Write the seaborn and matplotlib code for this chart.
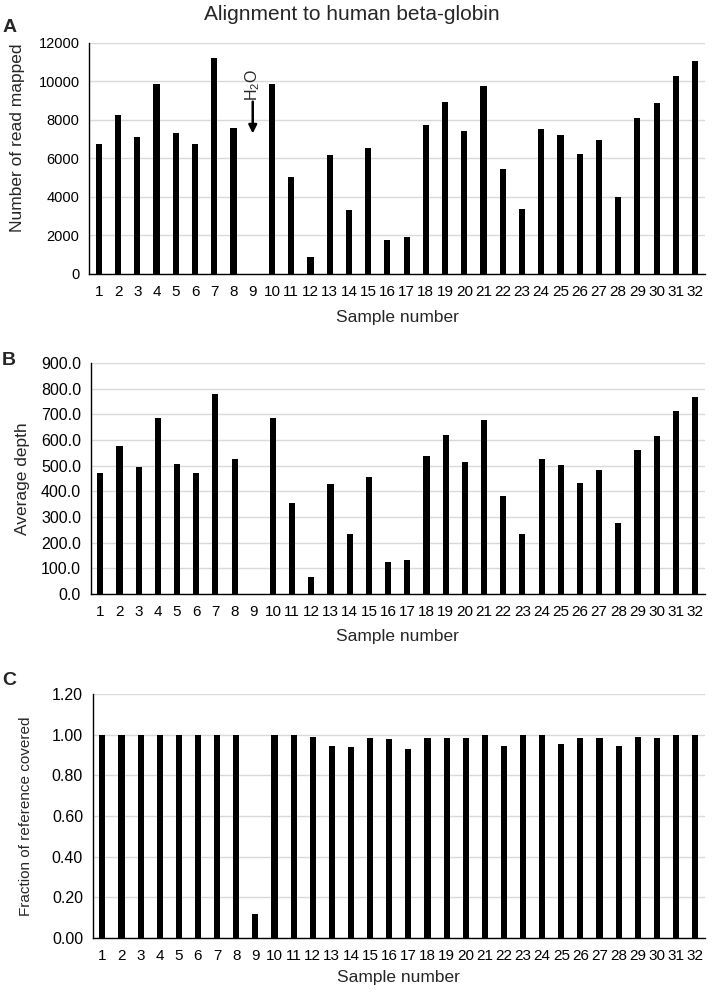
import numpy as np
import matplotlib
matplotlib.use("Agg")
import matplotlib.pyplot as plt
import seaborn as sns
from matplotlib.ticker import FixedLocator, FormatStrFormatter

sns.set_style("white")
plt.rcParams['font.family'] = ['Liberation Sans', 'DejaVu Sans']
plt.rcParams['mathtext.fontset'] = 'custom'
plt.rcParams['mathtext.rm'] = 'Liberation Sans'

# datos
samples = [str(i) for i in range(1, 33)]
reads_mapped = [6750, 8260, 7120, 9850, 7300, 6770, 11230, 7580, 0, 9850,
                5060, 880, 6160, 3310, 6560, 1780, 1900, 7720, 8920, 7430,
                9750, 5470, 3360, 7530, 7240, 6220, 6960, 3980, 8100, 8870,
                10300, 11060]
avg_depth = [471, 575, 495, 687, 508, 472, 779, 527, 0, 685,
             354, 65, 430, 233, 456, 125, 134, 537, 619, 516,
             678, 381, 235, 524, 504, 433, 484, 278, 562, 615,
             714, 767]
frac_covered = [1.00, 1.00, 1.00, 1.00, 0.998, 1.00, 1.00, 1.00, 0.12, 1.00,
                1.00, 0.99, 0.945, 0.938, 0.985, 0.979, 0.931, 0.985, 0.985, 0.985,
                0.997, 0.946, 1.00, 1.00, 0.953, 0.985, 0.985, 0.943, 0.989, 0.985,
                1.00, 1.00]

fig = plt.figure(figsize=(7.14, 9.92), dpi=100)
axA = fig.add_axes([0.125, 0.7238, 0.862, 0.2329])
axB = fig.add_axes([0.127, 0.4012, 0.860, 0.2329])
axC = fig.add_axes([0.130, 0.0544, 0.857, 0.2460])

# (eje, valores, etiqueta y, ticks y, formato, letra, tam. ticks y, tam. etiqueta y,
#  pos. etiqueta y, pos. letra, labelpad x)
panels = [
    (axA, reads_mapped, 'Number of read mapped', np.arange(0, 12001, 2000), '%d', 'A',
     10.5, 12.5, (-0.104, 0.589), (-0.141, 1.068), 8),
    (axB, avg_depth, 'Average depth', np.arange(0, 901, 100), '%.1f', 'B',
     11.5, 12.5, (-0.099, 0.5), (-0.145, 1.009), 7),
    (axC, frac_covered, 'Fraction of reference covered', np.arange(0, 1.21, 0.2), '%.2f', 'C',
     11.5, 11, (-0.0975, 0.5), (-0.148, 1.057), 5),
]

for ax, vals, ylab, yticks, fmt, letter, ytsize, ylsize, ylpos, letpos, xpad in panels:
    sns.barplot(x=samples, y=vals, color='black', width=0.32, ax=ax,
                saturation=1, edgecolor='black', linewidth=0)
    ax.set_xlim(-0.5, 31.5)
    ax.set_ylim(yticks[0], yticks[-1])
    ax.set_yticks(yticks)
    ax.yaxis.set_major_formatter(FormatStrFormatter(fmt))
    ax.set_axisbelow(True)
    ax.yaxis.grid(True, color='#d9d9d9', linewidth=1.0)
    ax.xaxis.grid(False)
    for s in ['top', 'right']:
        ax.spines[s].set_visible(False)
    for s in ['left', 'bottom']:
        ax.spines[s].set_color('black')
        ax.spines[s].set_linewidth(1.0)
    ax.xaxis.set_minor_locator(FixedLocator(np.arange(-0.5, 32, 1)))
    ax.tick_params(axis='x', which='major', length=0, pad=8, labelsize=11, colors='black')
    ax.tick_params(axis='x', which='minor', length=4, width=1, direction='out', color='black')
    ax.tick_params(axis='y', which='major', length=4, width=1, direction='out',
                   labelsize=ytsize, colors='black', pad=3)
    ax.set_ylabel(ylab, fontsize=ylsize)
    ax.yaxis.set_label_coords(*ylpos)
    ax.set_xlabel('Sample number', fontsize=12.5, labelpad=xpad)
    ax.text(letpos[0], letpos[1], letter, transform=ax.transAxes, fontsize=14,
            fontweight='bold', ha='left', va='center')

# flecha de H2O sobre la muestra 9
axA.annotate('', xy=(8, 7300), xytext=(8, 8950),
             arrowprops=dict(arrowstyle='-|>', color='black', lw=1.8,
                             mutation_scale=12, shrinkA=0, shrinkB=0))
axA.text(8, 9000, r'H$_\mathregular{2}$O', rotation=90, ha='center', va='bottom',
         fontsize=11.5)

fig.text(0.493, 0.985, 'Alignment to human beta-globin', ha='center', va='center', fontsize=15)

fig.savefig('out.png', dpi=100)
